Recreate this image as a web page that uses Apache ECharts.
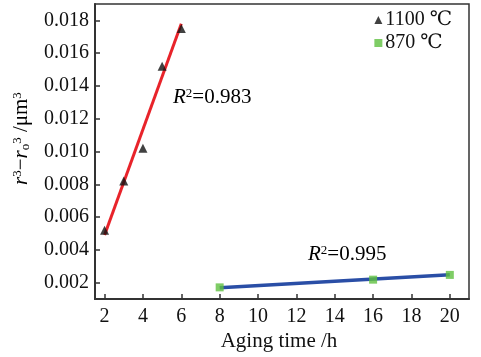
<!DOCTYPE html>
<html>
<head>
<meta charset="utf-8">
<script src="https://cdn.jsdelivr.net/npm/echarts@6/dist/echarts.min.js"></script>
<style>
html,body{margin:0;padding:0;background:#fff;}
#chart{width:481px;height:357px;}
</style>
</head>
<body>
<div id="chart"></div>
<script>
const x1100 = [2, 3, 4, 5, 6];
const y1100 = [0.0052, 0.0082, 0.0102, 0.0152, 0.0175];
const x870 = [8, 16, 20];
const y870 = [0.00171, 0.00218, 0.00247];
const fit1100X = [2, 6];
const fit1100Y = [0.0049, 0.0178];
const fit870X = [8, 20];
const fit870Y = [0.00168, 0.00248];
const xTicks = [2, 4, 6, 8, 10, 12, 14, 16, 18, 20];
const yTicks = [0.002, 0.004, 0.006, 0.008, 0.010, 0.012, 0.014, 0.016, 0.018];
const seriesNames = ['1100 \u2103', '870 \u2103'];
const r2Labels = ['0.983', '0.995'];

const FONT = '"Liberation Serif", "DejaVu Serif", serif';
const zip = (a, b) => a.map((v, i) => [v, b[i]]);

const chart = echarts.init(document.getElementById('chart'), null, {renderer: 'canvas'});
const supStyle = {fontSize: 13, fontFamily: FONT, color: '#111', verticalAlign: 'top', lineHeight: 12};
const big = 21;
const option = {
  backgroundColor: '#fff',
  animation: false,
  grid: {left: 95, right: 12, top: 4, bottom: 58, show: true, borderColor: '#333', borderWidth: 1.5},
  xAxis: {
    type: 'value', min: 1.5, max: 21,
    axisLine: {show: true, lineStyle: {color: '#333', width: 2}},
    axisTick: {show: true, inside: true, length: 5, lineStyle: {color: '#333', width: 1.5}, customValues: xTicks},
    axisLabel: {show: true, customValues: xTicks, margin: 8, color: '#111', fontSize: 20, fontFamily: FONT},
    splitLine: {show: false}
  },
  yAxis: {
    type: 'value', min: 0.001, max: 0.019,
    axisLine: {show: true, lineStyle: {color: '#333', width: 2}},
    axisTick: {show: true, inside: true, length: 5, lineStyle: {color: '#333', width: 1.5}, customValues: yTicks},
    axisLabel: {show: true, customValues: yTicks, margin: 6, color: '#111', fontSize: 20, fontFamily: FONT,
      formatter: v => v.toFixed(3)},
    splitLine: {show: false}
  },
  legend: {
    data: seriesNames, orient: 'vertical', right: 24, top: 5, itemWidth: 8, itemHeight: 8, itemGap: 3,
    textStyle: {fontSize: 20, fontFamily: FONT, color: '#111', padding: [0,0,0,-2]}
  },
  series: [
    {type: 'line', data: zip(fit1100X, fit1100Y), symbol: 'none', lineStyle: {color: '#e8232a', width: 3}, z: 2, silent: true},
    {type: 'line', data: zip(fit870X, fit870Y), symbol: 'none', lineStyle: {color: '#2a4ea6', width: 3.5}, z: 2, silent: true},
    {name: seriesNames[0], type: 'scatter', data: zip(x1100, y1100), symbol: 'triangle', symbolSize: 9,
      itemStyle: {color: '#111'}, z: 3},
    {name: seriesNames[1], type: 'scatter', data: zip(x870, y870), symbol: 'rect', symbolSize: 8,
      itemStyle: {color: '#5fc040'}, z: 3}
  ],
  graphic: [
    {type: 'text', left: 173, top: 87, style: {
      text: '{i|R}{s|2}{n|=' + r2Labels[0] + '}',
      rich: {i: {fontSize: big, fontFamily: FONT, fontStyle: 'italic', color: '#111'}, s: supStyle,
             n: {fontSize: big, fontFamily: FONT, color: '#111'}}}},
    {type: 'text', left: 308, top: 244, style: {
      text: '{i|R}{s|2}{n|=' + r2Labels[1] + '}',
      rich: {i: {fontSize: big, fontFamily: FONT, fontStyle: 'italic', color: '#111'}, s: supStyle,
             n: {fontSize: big, fontFamily: FONT, color: '#111'}}}},
    {type: 'text', x: 279, y: 331, style: {
      text: 'Aging time /h', font: big + 'px ' + FONT, fill: '#111', textAlign: 'center'}},
    {type: 'text', x: 11, y: 185, rotation: Math.PI / 2, style: {
      text: '{i|r}{s|3}{n|\u2212}{i|r}{b|o}{s|3}{n| /\u03bcm}{s|3}',
      rich: {i: {fontSize: big, fontFamily: FONT, fontStyle: 'italic', color: '#111'},
             s: supStyle,
             b: {fontSize: 13, fontFamily: FONT, color: '#111', verticalAlign: 'bottom', lineHeight: 12},
             n: {fontSize: big, fontFamily: FONT, color: '#111'}}}}
  ]
};
chart.setOption(option);
</script>
</body>
</html>
